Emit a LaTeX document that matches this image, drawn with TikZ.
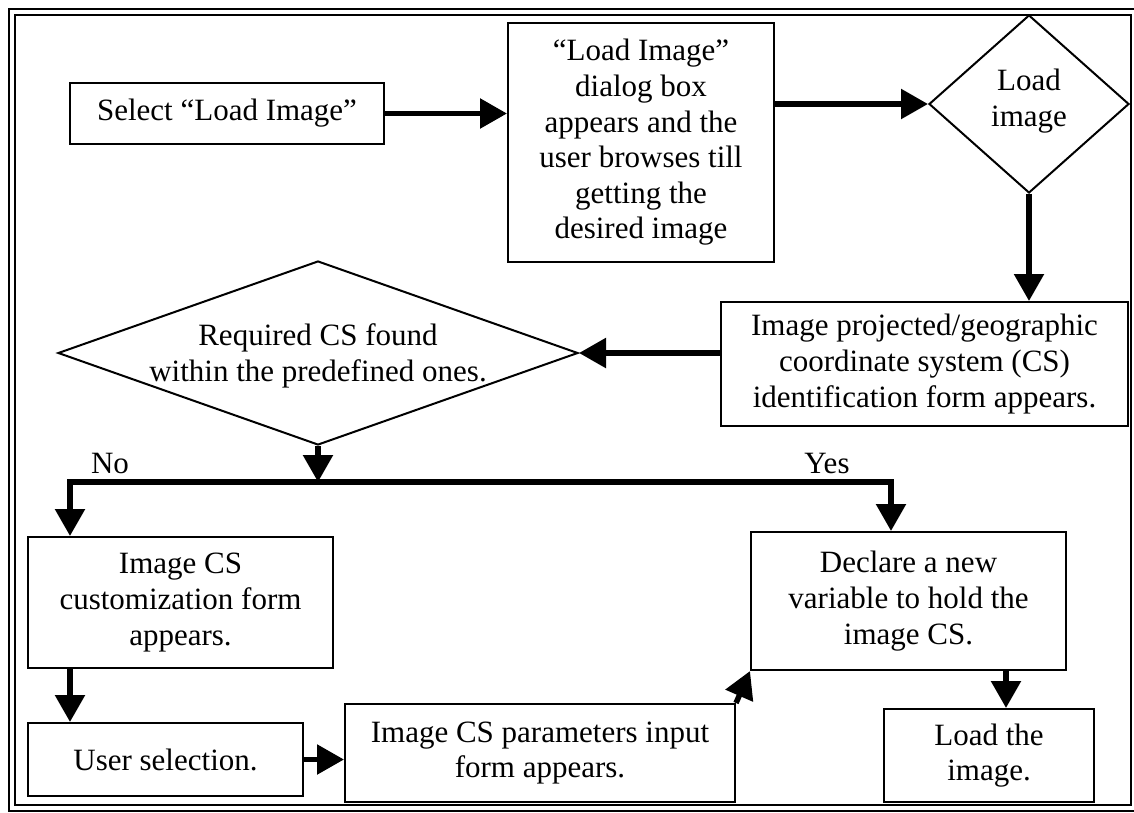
\documentclass[tikz,border=0pt]{standalone}
\usepackage{fontspec}
\setmainfont{Liberation Serif}
\usetikzlibrary{arrows.meta,shapes.geometric}
\begin{document}
\begin{tikzpicture}[x=1pt,y=-1pt,
  txt/.style={font=\fontsize{31}{35.6}\selectfont, align=center, inner sep=0pt},
  box/.style={txt, draw, line width=2pt, rectangle},
  diam/.style={draw, line width=2pt, diamond, inner sep=0pt},
  arr/.style={line width=5.5pt, line join=miter, -{Triangle[length=27pt,width=29pt]}},
  frameline/.style={line width=2.5pt}
]
\useasboundingbox (0,0) rectangle (1134,812);
% double frame
\draw[frameline] (9,9) rectangle (1138,811);
\draw[frameline] (15,15) rectangle (1131,805);

% nodes
\node[box, minimum width=314pt, minimum height=61pt] (sel) at (227,113.5) {Select “Load Image”};
\node[box, minimum width=266pt, minimum height=239pt] (dlg) at (641,142.5)
  {“Load Image”\\dialog box\\appears and the\\user browses till\\getting the\\desired image};
\node[diam, minimum width=200pt, minimum height=178pt] (d1) at (1029,104) {};
\node[txt] (d1t) at (1029,101) {Load\\image};
\node[box, minimum width=407pt, minimum height=124pt] (proj) at (924.5,364)
  {Image projected/geographic\\coordinate system (CS)\\identification form appears.};
\node[diam, minimum width=520pt, minimum height=184pt] (d2) at (318,353) {};
\node[txt] (d2t) at (318,356) {Required CS found\\within the predefined ones.};
\node[box, minimum width=305pt, minimum height=131pt] (cust) at (180.5,602.5)
  {Image CS\\customization form\\appears.};
\node[box, minimum width=275pt, minimum height=73pt] (user) at (165.5,759.5) {User selection.};
\node[box, minimum width=390pt, minimum height=98pt] (params) at (540,753)
  {Image CS parameters input\\form appears.};
\node[box, minimum width=315pt, minimum height=138pt] (decl) at (908.5,601)
  {Declare a new\\variable to hold the\\image CS.};
\node[box, minimum width=210pt, minimum height=93pt] (load) at (989,755.5)
  {Load the\\image.};

\node[txt] (no) at (110,463) {No};
\node[txt] (yes) at (827,463) {Yes};

% branch coordinates
\coordinate (nol) at (70,482);
\coordinate (yesr) at (891,482);

% connectors
\draw[arr] (sel.east) -- (sel.east -| dlg.west);
\draw[arr] (d1.west -| dlg.east) -- (d1.west);
\draw[arr] (d1.south) -- (d1.south |- proj.north);
\draw[arr] (proj.west |- d2.east) -- (d2.east);
\draw[arr] (d2.south) -- (d2.south |- nol);
\draw[arr] (d2.south |- nol) -- (nol) -- (nol |- cust.north);
\draw[arr] (d2.south |- nol) -- (yesr) -- (yesr |- decl.north);
\draw[arr] (nol |- cust.south) -- (nol |- user.north);
\draw[arr] (user.east) -- (user.east -| params.west);
\draw[arr] (params.north east) -- (decl.south west);
\draw[arr] ([xshift=17pt]load.north |- decl.south) -- ([xshift=17pt]load.north);
\end{tikzpicture}
\end{document}
